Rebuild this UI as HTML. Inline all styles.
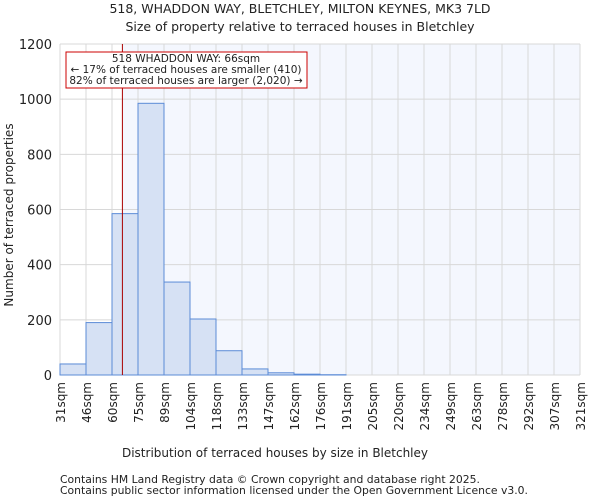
<!DOCTYPE html>
<html><head><meta charset="utf-8"><style>
body{margin:0;background:#fff;font-family:"DejaVu Sans","Liberation Sans",sans-serif;}
svg text{font-family:"DejaVu Sans","Liberation Sans",sans-serif;fill:#222;}
</style></head><body>
<svg id="c" width="600" height="500" viewBox="0 0 600 500" xmlns="http://www.w3.org/2000/svg">
<text x="300" y="13" font-size="12.5" text-anchor="middle">518, WHADDON WAY, BLETCHLEY, MILTON KEYNES, MK3 7LD</text>
<text x="300" y="31" font-size="12.5" text-anchor="middle">Size of property relative to terraced houses in Bletchley</text>
<g id="plot"></g>
<text x="275" y="457" font-size="12" text-anchor="middle">Distribution of terraced houses by size in Bletchley</text>
<text transform="translate(13,215) rotate(-90)" font-size="12" text-anchor="middle">Number of terraced properties</text>
<text x="60" y="483" font-size="10.8" fill="#444">Contains HM Land Registry data © Crown copyright and database right 2025.</text>
<text x="60" y="494" font-size="10.8" fill="#444">Contains public sector information licensed under the Open Government Licence v3.0.</text>
</svg>
<script>
const binLabels=["31sqm","46sqm","60sqm","75sqm","89sqm","104sqm","118sqm","133sqm","147sqm","162sqm","176sqm","191sqm","205sqm","220sqm","234sqm","249sqm","263sqm","278sqm","292sqm","307sqm","321sqm"];
const binEdges=[31,46,60,75,89,104,118,133,147,162,176,191,205,220,234,249,263,278,292,307,321];
const counts=[40,190,585,985,337,203,88,22,8,3,1,0,0,0,0,0,0,0,0,0];
const yTicks=[0,200,400,600,800,1000,1200];
const markerValue=66;
const L=60,R=580,T=44,B=375,yMax=1200;
const NS="http://www.w3.org/2000/svg";
const g=document.getElementById('plot');
const n=counts.length,bw=(R-L)/n;
const xi=i=>L+i*bw;
const y=v=>B-(v/yMax)*(B-T);
function xv(v){for(let i=0;i<binEdges.length-1;i++){if(v<=binEdges[i+1])return xi(i)+(v-binEdges[i])/(binEdges[i+1]-binEdges[i])*bw;}return R;}
function mk(t,a){const e=document.createElementNS(NS,t);for(const k in a)e.setAttribute(k,a[k]);g.appendChild(e);return e;}
const mx=xv(markerValue);
let e=mk('rect',{x:mx,y:T,width:R-mx,height:B-T,fill:'#f4f7fe'});


for(let i=0;i<=n;i++){e=mk('line',{x1:xi(i),x2:xi(i),y1:T,y2:B,stroke:'#d8d8d8','stroke-width':1});

}
yTicks.forEach(t=>{e=mk('line',{x1:L,x2:R,y1:y(t),y2:y(t),stroke:'#d8d8d8','stroke-width':1});


e=mk('text',{x:L-8,y:y(t)+5,'font-size':13,'text-anchor':'end'});e.textContent=t;

});
counts.forEach((c,i)=>{if(c<=0)return;e=mk('rect',{x:xi(i),y:y(c),width:bw,height:B-y(c),fill:'#d6e1f4',stroke:'#5b8bd6','stroke-width':1});

});
binLabels.forEach((l,i)=>{e=mk('text',{transform:`translate(${xi(i)+5},382) rotate(-90)`,'font-size':12,'text-anchor':'end'});e.textContent=l;

});
e=mk('line',{x1:mx,x2:mx,y1:T,y2:B,stroke:'#aa0000','stroke-width':1});


e=mk('rect',{x:66,y:52,width:241,height:36,fill:'#fff',stroke:'#cc0000','stroke-width':1});


[["518 WHADDON WAY: 66sqm",62],["← 17% of terraced houses are smaller (410)",73],["82% of terraced houses are larger (2,020) →",84]].forEach(([t,yy])=>{e=mk('text',{x:186,y:yy,'font-size':10.5,'text-anchor':'middle'});e.textContent=t;

});
</script>
</body></html>
